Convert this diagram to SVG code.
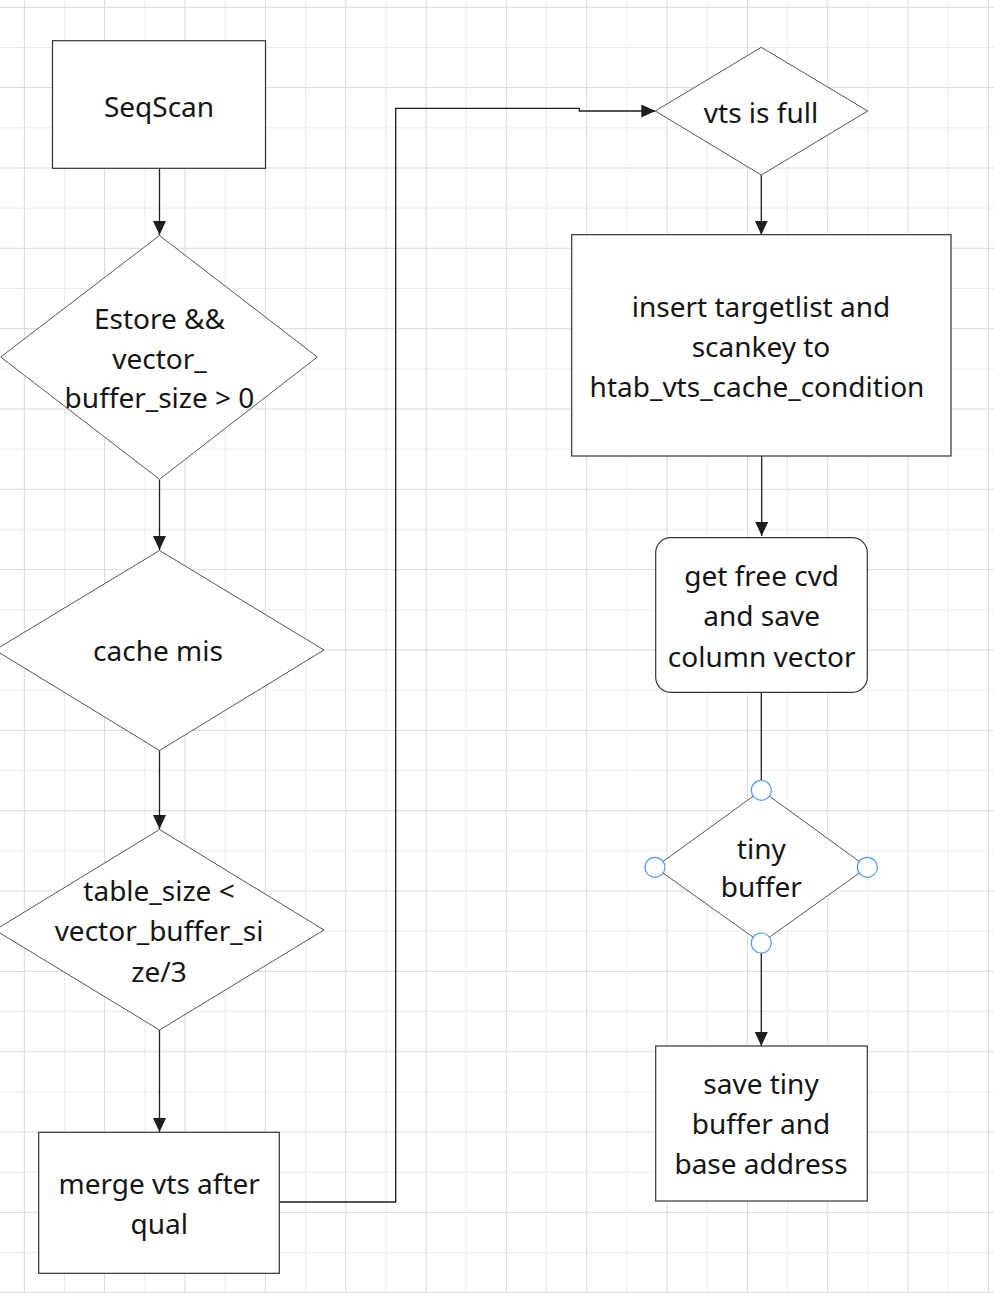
<svg xmlns="http://www.w3.org/2000/svg" width="994" height="1293" viewBox="0 0 994 1293">
<style>
.major{stroke:#d9d9d9;stroke-width:1;fill:none}
.minor{stroke:#ebebeb;stroke-width:1;fill:none}
.box{fill:#fff;stroke:#333;stroke-width:1.2}
.dia{fill:#fff;stroke:#555;stroke-width:1}
.edge{fill:none;stroke:#1e1e1e;stroke-width:1.3}
.pt{fill:#fff;stroke:#4a9bf5;stroke-width:1.2}
text{font-family:"Noto Sans","Open Sans","DejaVu Sans",sans-serif;font-size:28px;fill:#151515;text-anchor:middle}
</style>
<defs>
<marker id="arr" markerUnits="userSpaceOnUse" markerWidth="14" markerHeight="14" refX="14" refY="6.5" orient="auto">
<path d="M0,0 L14,6.5 L0,13 z" fill="#1e1e1e"/>
</marker>
</defs>
<rect width="994" height="1293" fill="#fff"/>
<g id="grid">
<path class="minor" d="M64.5,0V1293M144.8,0V1293M225.1,0V1293M305.5,0V1293M385.8,0V1293M466.2,0V1293M546.5,0V1293M626.8,0V1293M707.2,0V1293M787.5,0V1293M867.9,0V1293M948.2,0V1293M0,47.5H994M0,127.8H994M0,208.1H994M0,288.5H994M0,368.8H994M0,449.2H994M0,529.5H994M0,609.9H994M0,690.2H994M0,770.5H994M0,850.9H994M0,931.2H994M0,1011.6H994M0,1091.9H994M0,1172.3H994M0,1252.6H994"/>
<path class="major" d="M24.3,0V1293M104.6,0V1293M185,0V1293M265.3,0V1293M345.7,0V1293M426,0V1293M506.3,0V1293M586.7,0V1293M667,0V1293M747.4,0V1293M827.7,0V1293M908,0V1293M988.4,0V1293M0,7.3H994M0,87.6H994M0,168H994M0,248.3H994M0,328.7H994M0,409H994M0,489.3H994M0,569.7H994M0,650H994M0,730.4H994M0,810.7H994M0,891.1H994M0,971.4H994M0,1051.7H994M0,1132.1H994M0,1212.4H994M0,1292.5H994"/>
</g>
<g id="connectors">
<path class="edge" d="M159.5,168.5V235" marker-end="url(#arr)"/>
<path class="edge" d="M159.5,479.5V550" marker-end="url(#arr)"/>
<path class="edge" d="M159.5,750.5V829" marker-end="url(#arr)"/>
<path class="edge" d="M159.5,1030V1132" marker-end="url(#arr)"/>
<path class="edge" d="M279.5,1202H395.7V108.3H579.3V111H655.3" marker-end="url(#arr)"/>
<path class="edge" d="M761.3,175V234.7" marker-end="url(#arr)"/>
<path class="edge" d="M761.7,456V536" marker-end="url(#arr)"/>
<path class="edge" d="M761.3,692.3V780"/>
<path class="edge" d="M761.3,953V1046" marker-end="url(#arr)"/>
</g>
<g id="seqscan">
<rect class="box" x="52.5" y="40.7" width="213" height="127.6"/>
<text x="159" y="116.7">SeqScan</text>
</g>
<g id="estore">
<polygon class="dia" points="159.5,235.5 317.3,357 159.5,479.3 0.7,357"/>
<text x="159.5" y="329">Estore &amp;&amp;</text>
<text x="159.5" y="368.5">vector_</text>
<text x="159.5" y="408">buffer_size &gt; 0</text>
</g>
<g id="cachemis">
<polygon class="dia" points="159.5,550.5 324,650 159.5,750.5 -5,650"/>
<text x="158" y="660.7">cache mis</text>
</g>
<g id="tablesize">
<polygon class="dia" points="159.5,829.5 324,930 159.5,1030 -5,930"/>
<text x="159" y="901">table_size &lt;</text>
<text x="159" y="941">vector_buffer_si</text>
<text x="159" y="981.5">ze/3</text>
</g>
<g id="merge">
<rect class="box" x="38.7" y="1132.3" width="240.6" height="141"/>
<text x="159.2" y="1194.3">merge vts after</text>
<text x="159.2" y="1233.8">qual</text>
</g>
<g id="vtsfull">
<polygon class="dia" points="761.3,47.3 867.7,111 761.3,175 655.3,111"/>
<text x="761" y="122.7">vts is full</text>
</g>
<g id="insert">
<rect class="box" x="571.7" y="234.7" width="379.3" height="221.3"/>
<text x="761" y="316.7">insert targetlist and</text>
<text x="761" y="357.3">scankey to</text>
<text x="757" y="396.7">htab_vts_cache_condition</text>
</g>
<g id="getfree">
<rect class="box" x="655.7" y="537.7" width="211.6" height="154.6" rx="15" ry="15"/>
<text x="761.7" y="585.7">get free cvd</text>
<text x="761.7" y="625.5">and save</text>
<text x="761.7" y="666.7">column vector</text>
</g>
<g id="tinybuffer">
<polygon class="dia" points="761.3,790.3 867.3,867.3 761.3,943 655,867.3"/>
<text x="761.3" y="859">tiny</text>
<text x="761.3" y="897.3">buffer</text>
<circle class="pt" cx="761.3" cy="790.3" r="10"/>
<circle class="pt" cx="655" cy="867.3" r="10"/>
<circle class="pt" cx="867.3" cy="867.3" r="10"/>
<circle class="pt" cx="761.3" cy="943" r="10"/>
</g>
<g id="savetiny">
<rect class="box" x="655.7" y="1046" width="211.6" height="155"/>
<text x="761" y="1094.3">save tiny</text>
<text x="761" y="1134.3">buffer and</text>
<text x="761" y="1174.3">base address</text>
</g>
</svg>
